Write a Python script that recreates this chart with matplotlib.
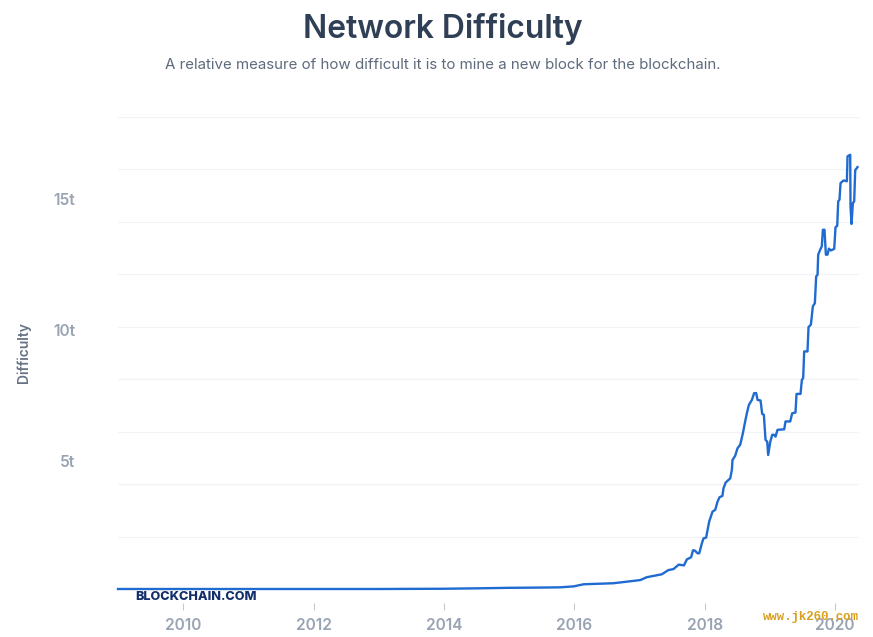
import matplotlib
matplotlib.use("Agg")
import matplotlib.pyplot as plt

WIDTH, HEIGHT = 873, 637

early_years = [2009.0, 2010.0, 2011.0, 2012.0, 2013.0, 2013.5, 2014.0, 2014.5, 2015.0, 2015.5, 2015.78, 2015.99]
early_diff = [0.0, 0.0, 0.0, 0.0, 0.0, 0.005, 0.01, 0.025, 0.045, 0.055, 0.064, 0.10]

mid_years = [2016.14, 2016.60, 2017.01, 2017.11, 2017.34, 2017.44, 2017.52, 2017.60, 2017.68, 2017.725,
             2017.79, 2017.82, 2017.85, 2017.89, 2017.914, 2017.955, 2017.98, 2018.02, 2018.067, 2018.118,
             2018.16, 2018.195, 2018.226, 2018.27, 2018.287, 2018.32, 2018.39]
mid_diff = [0.18, 0.22, 0.34, 0.45, 0.56, 0.72, 0.76, 0.93, 0.90, 1.13,
            1.21, 1.48, 1.46, 1.36, 1.36, 1.74, 1.93, 1.96, 2.57, 2.95,
            3.02, 3.33, 3.50, 3.55, 3.84, 4.06, 4.22]

late_years = [2018.415, 2018.425, 2018.466, 2018.502, 2018.543, 2018.584, 2018.619, 2018.645, 2018.676, 2018.722,
              2018.757, 2018.788, 2018.809, 2018.855, 2018.880, 2018.906, 2018.931, 2018.957, 2018.972, 2019.003,
              2019.034, 2019.064, 2019.085, 2019.115, 2019.218, 2019.238, 2019.310, 2019.340, 2019.391, 2019.407,
              2019.468, 2019.489, 2019.509, 2019.524, 2019.575, 2019.591, 2019.627, 2019.657, 2019.688, 2019.708,
              2019.729, 2019.739, 2019.770, 2019.795, 2019.811, 2019.836, 2019.857, 2019.882, 2019.903, 2019.933,
              2019.985, 2020.005, 2020.031, 2020.046, 2020.066, 2020.082, 2020.128, 2020.179, 2020.189, 2020.230,
              2020.235, 2020.250, 2020.271, 2020.291, 2020.307, 2020.342]
late_diff = [4.54, 4.92, 5.08, 5.37, 5.50, 5.94, 6.39, 6.70, 7.02, 7.21,
             7.47, 7.47, 7.21, 7.19, 6.68, 6.64, 5.69, 5.62, 5.11, 5.60,
             5.88, 5.88, 5.81, 6.07, 6.09, 6.39, 6.39, 6.70, 6.73, 7.44,
             7.44, 7.98, 8.04, 9.06, 9.06, 9.99, 10.08, 10.78, 10.90, 11.92,
             11.98, 12.75, 12.94, 13.07, 13.70, 13.70, 12.75, 12.75, 12.98, 12.91,
             12.97, 13.80, 13.85, 14.78, 14.85, 15.48, 15.58, 15.55, 16.50, 16.56,
             14.59, 13.92, 14.72, 14.78, 15.97, 16.09]

x_ticks = [2010, 2012, 2014, 2016, 2018, 2020]
grid_ticks = [0, 2, 4, 6, 8, 10, 12, 14, 16, 18]
y_label_values = [5, 10, 15]
y_label_text = ["5t", "10t", "15t"]

years = early_years + mid_years + late_years
difficulty = early_diff + mid_diff + late_diff

plt.rcParams["font.family"] = ["Inter", "DejaVu Sans"]

fig = plt.figure(figsize=(WIDTH / 100, HEIGHT / 100), dpi=100)
ax = fig.add_axes([118 / WIDTH, 1 - 589 / HEIGHT, 741 / WIDTH, 472 / HEIGHT])

ax.plot(years, difficulty, color="#1f6bd0", linewidth=1.7, solid_joinstyle="round", clip_on=False, zorder=3)

# has to come before the ticks, set_position resets them
ax.spines["bottom"].set_position(("outward", 10))
for name in ["top", "right", "left", "bottom"]:
    ax.spines[name].set_visible(False)

ax.set_xlim(2009.0, 2020.365)
ax.set_ylim(0, 18)

# gridlines every 2t, labels every 5t sit a bit lower, like the original
ax.set_yticks(grid_ticks)
ax.tick_params(axis="y", length=0, labelleft=False)
ax.grid(True, axis="y", color="#f1f3f6", linewidth=0.9)
ax.set_axisbelow(True)

ax.set_xticks(x_ticks)
ax.set_xticklabels([str(y) for y in x_ticks])
ax.tick_params(axis="x", length=5, width=0.8, color="#c4c9d2", pad=6, labelsize=11.2, labelcolor="#9aa3b3")
for lab in ax.get_xticklabels():
    lab.set_fontweight("semibold")

for val, txt in zip(y_label_values, y_label_text):
    ax.annotate(txt, xy=(0, val), xycoords=ax.get_yaxis_transform(), xytext=(-31, -3.3), textcoords="offset points",
                ha="right", va="center", fontsize=11.2, fontweight="semibold", color="#9aa3b3")

fig.text(442.5 / WIDTH, 1 - 29 / HEIGHT, "Network Difficulty", ha="center", va="center",
         fontsize=22.9, fontweight="semibold", color="#2f3f56")
fig.text(442.5 / WIDTH, 1 - 65 / HEIGHT, "A relative measure of how difficult it is to mine a new block for the blockchain.",
         ha="center", va="center", fontsize=10.85, color="#5f6b7c")
fig.text(24 / WIDTH, 1 - 353 / HEIGHT, "Difficulty", ha="center", va="center", rotation=90,
         fontsize=10, fontweight="semibold", color="#667285")

fig.text(135 / WIDTH, 1 - 597 / HEIGHT, "BLOCKCHAIN.COM", ha="left", va="center",
         fontsize=9.1, fontweight="heavy", color="#122f6b", zorder=5)
fig.text(763 / WIDTH, 1 - 617 / HEIGHT, "www.jk260.com", ha="left", va="center",
         fontsize=8.9, fontweight="bold", family=["Liberation Mono", "DejaVu Sans Mono"], color="#d9a020", zorder=5)

fig.savefig("out.png", dpi=100)
